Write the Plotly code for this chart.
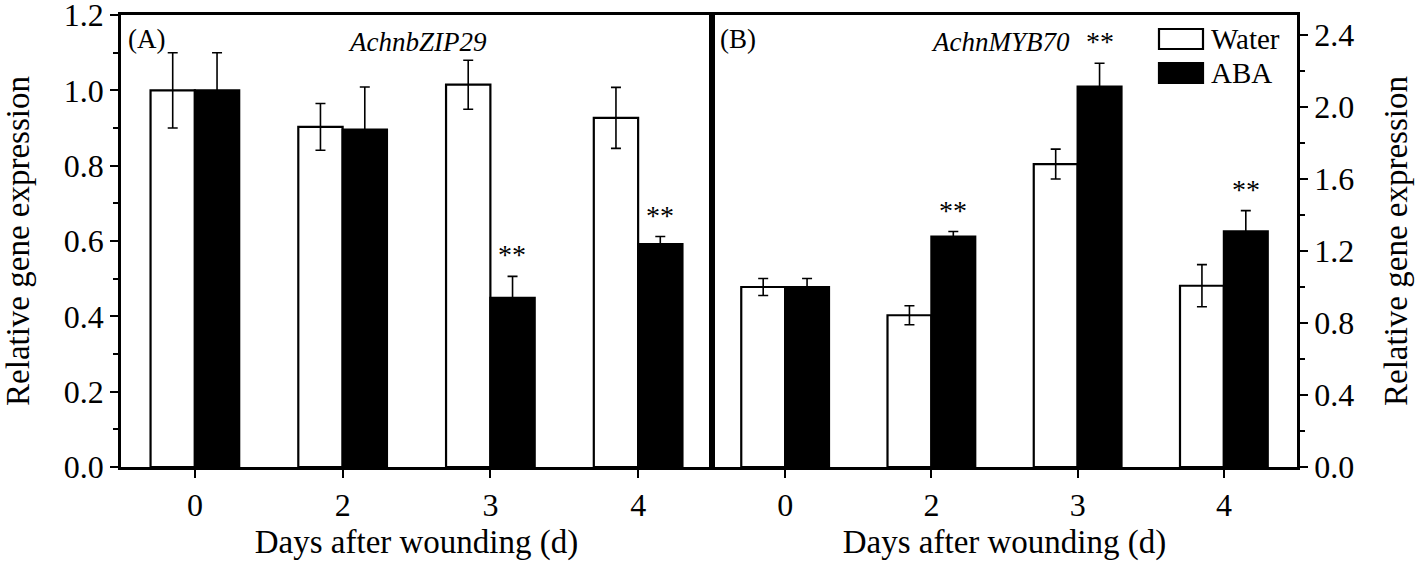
import plotly.graph_objects as go
from plotly.subplots import make_subplots

days = ["0", "2", "3", "4"]

# Panel A: AchnbZIP29
a_water = [1.00, 0.903, 1.015, 0.927]
a_water_err = [0.10, 0.062, 0.065, 0.081]
a_aba = [1.00, 0.896, 0.449, 0.592]
a_aba_err = [0.10, 0.113, 0.057, 0.020]
a_sig = [False, False, True, True]

# Panel B: AchnMYB70
b_water = [1.00, 0.843, 1.683, 1.007]
b_water_err = [0.047, 0.053, 0.083, 0.117]
b_aba = [1.00, 1.28, 2.113, 1.309]
b_aba_err = [0.047, 0.028, 0.13, 0.115]
b_sig = [False, True, True, True]

FONT = "Liberation Serif"
W, H = 1416, 561
L, R, T, B = 121, 119, 15, 94
PW, PH = W - L - R, H - T - B

fig = make_subplots(rows=1, cols=2, horizontal_spacing=0)

def add_panel(col, water, werr, aba, aerr):
    fig.add_trace(go.Bar(
        x=days, y=water, name="Water", offsetgroup="w",
        marker=dict(color="white", line=dict(color="black", width=2.2)),
        error_y=dict(type="data", array=werr, visible=True, color="black",
                     thickness=1.6, width=5),
        showlegend=False), row=1, col=col)
    fig.add_trace(go.Bar(
        x=days, y=aba, name="ABA", offsetgroup="a",
        marker=dict(color="black", line=dict(color="black", width=2.2)),
        error_y=dict(type="data", array=aerr, visible=True, color="black",
                     thickness=1.6, width=5),
        showlegend=False), row=1, col=col)

add_panel(1, a_water, a_water_err, a_aba, a_aba_err)
add_panel(2, b_water, b_water_err, b_aba, b_aba_err)

def px_x(x):
    return (x - L) / PW

def px_y(y):
    return 1 - (y - T) / PH

xd1 = [0, 591 / PW]
xd2 = [591 / PW, 1]

tickfont = dict(family=FONT, size=32, color="black")
titlefont = dict(family=FONT, size=33, color="black")

common_x = dict(type="category", range=[-0.5, 3.5], automargin=False,
                showline=True, linecolor="black", linewidth=2.6, mirror=True,
                ticks="outside", ticklen=8, tickwidth=2.2, tickcolor="black",
                tickfont=tickfont, showgrid=False, zeroline=False,
                title=dict(text="Days after wounding (d)", font=titlefont, standoff=8))

fig.update_layout(
    width=W, height=H,
    margin=dict(l=L, r=R, t=T, b=B, autoexpand=False),
    plot_bgcolor="white", paper_bgcolor="white",
    bargap=0.40, bargroupgap=0,
    barmode="group",
    xaxis=dict(domain=xd1, **common_x),
    xaxis2=dict(domain=xd2, **common_x),
    yaxis=dict(domain=[0, 1], range=[0, 1.2001], tickmode="linear", tick0=0, dtick=0.2,
               tickformat=".1f", automargin=False, ticklabeloverflow="allow",
               showline=True, linecolor="black", linewidth=2.6, mirror=True,
               ticks="outside", ticklen=8, tickwidth=2.2, tickcolor="black",
               minor=dict(ticks="outside", ticklen=5, tickmode="linear", tick0=0, dtick=0.1,
                          tickwidth=2, tickcolor="black", showgrid=False),
               tickfont=tickfont, showgrid=False, zeroline=False,
               title=dict(text="Relative gene expression", font=titlefont, standoff=27)),
    yaxis2=dict(domain=[0, 1], range=[0, 2.511], tickmode="linear", tick0=0, dtick=0.4,
                tickformat=".1f", automargin=False, ticklabeloverflow="allow",
                side="right", anchor="x2",
                showline=True, linecolor="black", linewidth=2.6, mirror=True,
                ticks="outside", ticklen=8, tickwidth=2.2, tickcolor="black",
                minor=dict(ticks="outside", ticklen=5, tickmode="linear", tick0=0, dtick=0.2,
                           tickwidth=2, tickcolor="black", showgrid=False),
                tickfont=tickfont, showgrid=False, zeroline=False,
                title=dict(text="Relative gene expression", font=titlefont, standoff=31)),
)

# significance markers
for xref, yref, vals, errs, sig in [("x", "y", a_aba, a_aba_err, a_sig),
                                    ("x2", "y2", b_aba, b_aba_err, b_sig)]:
    for i, (v, e, s) in enumerate(zip(vals, errs, sig)):
        if s:
            fig.add_annotation(x=i, y=v + e, xref=xref, yref=yref, text="**",
                               showarrow=False, xshift=22, yshift=4, yanchor="bottom",
                               font=dict(family=FONT, size=28, color="black"))

# panel labels and gene names
lab = dict(family=FONT, size=27, color="black")
fig.add_annotation(x=px_x(126), y=px_y(22), xref="paper", yref="paper", text="(A)",
                   showarrow=False, xanchor="left", yanchor="top", font=lab)
fig.add_annotation(x=px_x(718), y=px_y(22), xref="paper", yref="paper", text="(B)",
                   showarrow=False, xanchor="left", yanchor="top", font=lab)
fig.add_annotation(x=px_x(417), y=px_y(42), xref="paper", yref="paper", text="<i>AchnbZIP29</i>",
                   showarrow=False, xanchor="center", yanchor="middle", font=lab)
fig.add_annotation(x=px_x(1000), y=px_y(42), xref="paper", yref="paper", text="<i>AchnMYB70</i>",
                   showarrow=False, xanchor="center", yanchor="middle", font=lab)

# legend (manual)
legend_items = [("Water", "white", 39), ("ABA", "black", 73)]
for name, color, yc in legend_items:
    fig.add_shape(type="rect", xref="paper", yref="paper",
                  x0=px_x(1159), x1=px_x(1203), y0=px_y(yc + 10), y1=px_y(yc - 10),
                  line=dict(color="black", width=2.2), fillcolor=color)
    fig.add_annotation(x=px_x(1209), y=px_y(yc), xref="paper", yref="paper", text=name,
                       showarrow=False, xanchor="left", yanchor="middle",
                       font=dict(family=FONT, size=29, color="black"))

fig.write_html("out.html", config={"displayModeBar": False},
               post_script="document.body.style.margin='0';document.body.style.overflow='hidden';")
